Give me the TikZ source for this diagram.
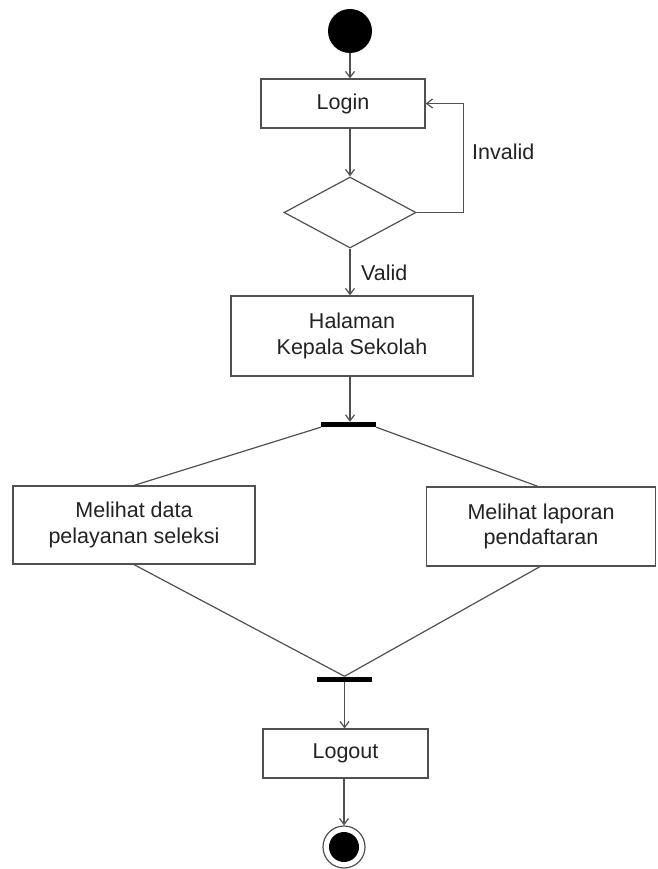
\documentclass[tikz,border=0pt]{standalone}
\usepackage{fontspec}
\setmainfont{Liberation Sans}
\usetikzlibrary{shapes.geometric,arrows.meta}
\definecolor{ln}{HTML}{505050}
\definecolor{tx}{HTML}{222222}
\begin{document}
\begin{tikzpicture}[x=1pt,y=-1pt,
  every node/.style={font=\fontsize{21.5}{25.8}\selectfont, text=tx},
  act/.style={draw=ln, line width=1.2pt, rectangle, inner sep=0pt, align=center},
  bar/.style={fill=black, draw=none, rectangle, inner sep=0pt, minimum width=55pt, minimum height=5pt},
  arr/.style={draw=ln, line width=1.2pt, -{Straight Barb[length=6pt,width=9pt,line width=1.2pt]}},
  ln/.style={draw=ln, line width=1.2pt}]
\useasboundingbox (0,0) rectangle (657,869);
\node[circle, fill=black, inner sep=0pt, minimum size=44pt] (start) at (350,31) {};
\node[act, minimum width=164pt, minimum height=49pt] (login) at (343,103.5) {Login};
\node[diamond, draw=ln, line width=1.2pt, inner sep=0pt, minimum width=132pt, minimum height=71pt] (dec) at (350,212.5) {};
\node[act, minimum width=242pt, minimum height=80pt] (hal) at (352,336) {Halaman\\Kepala Sekolah};
\node[bar] (fork) at (348.5,424.5) {};
\node[act, minimum width=242pt, minimum height=78pt] (left) at (134,525) {Melihat data\\pelayanan seleksi};
\node[act, minimum width=229pt, minimum height=79pt] (right) at (541,526.5) {Melihat laporan\\pendaftaran};
\node[bar] (join) at (344.5,679) {};
\node[act, minimum width=165pt, minimum height=49pt] (logout) at (345.5,753.5) {Logout};
\node[circle, draw=ln, line width=1.2pt, inner sep=0pt, minimum size=42pt] (end) at (344,847) {};
\node[circle, fill=black, inner sep=0pt, minimum size=30pt] (endin) at (end.center) {};
\node[anchor=west, inner sep=0pt] (inv) at (472,152) {Invalid};
\node[anchor=west, inner sep=0pt] (val) at (361,273) {Valid};

\draw[arr] (start.south) -- (start.south |- login.north);
\draw[arr] (dec.north |- login.south) -- (dec.north);
\draw[arr] (dec.east) -- ++(47,0) |- (login.east);
\draw[arr] (dec.south) -- (dec.south |- hal.north);
\draw[arr] (dec.south |- hal.south) -- (dec.south |- fork.north);
\draw[ln] (fork.south west) -- (left.north);
\draw[ln] (fork.south east) -- ([xshift=-3pt]right.north);
\draw[ln] (left.south) -- (join.north);
\draw[ln] ([xshift=-1pt]right.south) -- (join.north);
\draw[arr] (join.south) -- (join.south |- logout.north);
\draw[arr] (end.north |- logout.south) -- (end.north);
\end{tikzpicture}
\end{document}
